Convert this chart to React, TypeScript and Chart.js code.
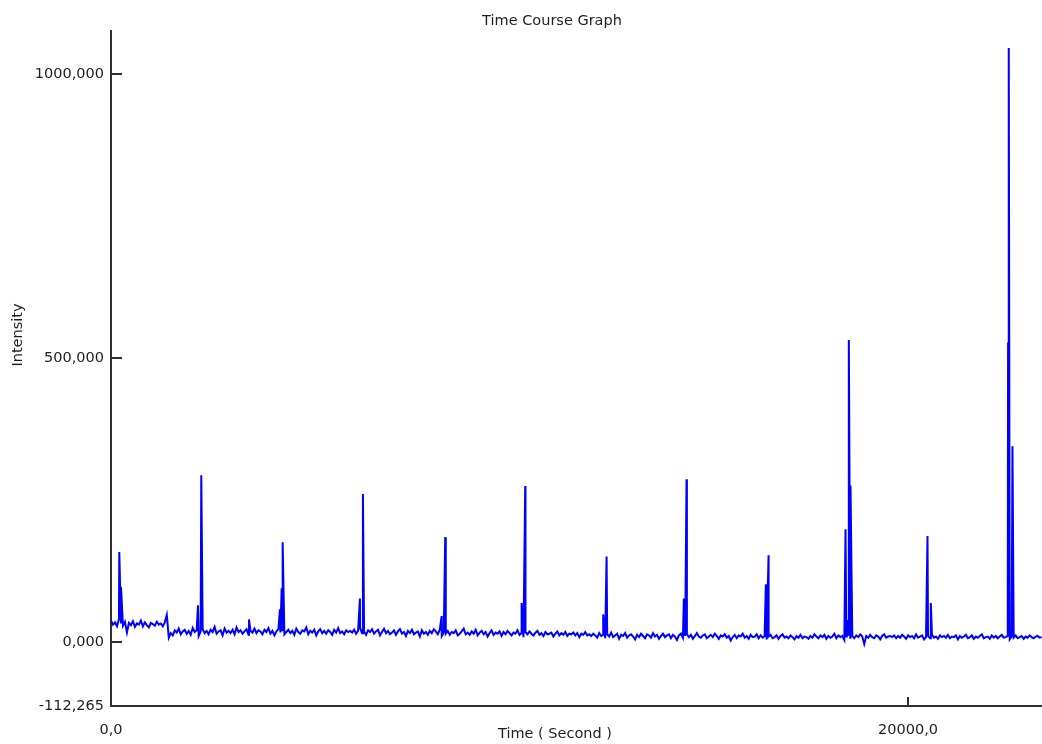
import React, { useEffect, useRef } from "react";
import { Chart, registerables } from "chart.js";

Chart.register(...registerables);

// Baseline trace, sampled every 50 s from t = 0
const baselineStart = 0;
const baselineStep = 50;
const baselineIntensity = [
  // 0 – 1400 s
  38, 31, 35, 28, 41, 33, 29, 36, 17, 34,
  30, 37, 27, 33, 31, 38, 28, 35, 30, 26,
  34, 32, 29, 36, 31, 33, 28, 35, 48,
  // 1450 – 6000 s
  8, 16, 12, 21, 17, 24, 14, 19, 22, 15,
  20, 13, 25, 18, 21, 11, 19, 23, 16, 20,
  14, 22, 18, 27, 15, 19, 21, 12, 24, 17,
  20, 16, 22, 14, 26, 18, 21, 15, 19, 23,
  13, 20, 17, 24, 16, 21, 19, 14, 22, 18,
  25, 15, 20, 12, 19, 23, 17, 21, 14, 18,
  22, 16, 20, 13, 24, 18, 15, 21, 19, 26,
  14, 20, 17, 22, 12, 19, 23, 16, 20, 15,
  21, 18, 13, 22, 17, 25, 16, 19, 14, 21,
  18, 20,
  // 6050 – 12000 s
  17, 22, 15, 20, 25, 16, 19, 13, 21, 18,
  23, 15, 19, 22, 12, 18, 24, 16, 20, 14,
  17, 21, 13, 19, 23, 15, 18, 11, 20, 16,
  22, 14, 17, 19, 10, 21, 15, 18, 13, 20,
  16, 23, 19, 14, 22, 11, 17, 15, 20, 13,
  18, 16, 21, 12, 15, 19, 24, 14, 17, 13,
  19, 15, 22, 12, 17, 20, 14, 18, 10, 16,
  21, 13, 17, 15, 19, 11, 18, 14, 20, 16,
  12, 17, 15, 21, 13, 16, 9, 18, 14, 19,
  15, 12, 17, 20, 13, 16, 11, 18, 14, 15,
  17, 10, 15, 19, 12, 16, 13, 18, 11, 15,
  14, 17, 12, 16, 9, 15, 13, 18, 12, 14,
  // 12050 – 23350 s
  11, 15, 12, 8, 16, 11, 13, 7, 14, 10,
  17, 9, 12, 15, 6, 13, 11, 16, 8, 12,
  14, 10, 5, 13, 9, 15, 11, 7, 14, 12,
  8, 16, 10, 13, 6, 11, 15, 9, 12, 14,
  7, 13, 10, 4, 12, 15, 8, 11, 14, 9,
  13, 6, 11, 16, 10, 8, 12, 14, 7, 10,
  13, 9, 15, 11, 6, 12, 10, 14, 8, 11,
  3, 9, 13, 7, 12, 10, 15, 8, 11, 6,
  13, 9, 10, 14, 7, 12, 8, 11, 5, 10,
  13, 7, 9, 12, 6, 11, 14, 8, 10, 7,
  12, 9, 5, 11, 8, 13, 7, 10, 9, 6,
  11, 8, 14, 10, 7, 12, 9, 13, 6, 11,
  8, 10, 15, 7, 12, 9, 11, 4, 10, 13,
  8, 11, 7, 12, 9, 14, 10, -3, 11, 8,
  13, 9, 7, 12, 10, 5, 11, 14, 8, 10,
  11, 9, 12, 7, 11, 8, 13, 10, 6, 12,
  9, 11, 7, 14, 8, 10, 12, 5, 9, 11,
  7, 13, 8, 10, 6, 12, 9, 11, 8, 13,
  7, 10, 9, 12, 5, 11, 8, 10, 13, 7,
  9, 12, 6, 10, 8, 11, 14, 7, 9, 10,
  6, 12, 8, 11, 7, 10, 13, 8, 9, 11,
  5, 10, 8, 12, 7, 9, 11, 6, 10, 8,
  12, 9, 7, 10, 11, 8, 9,
];

// Stimulus responses (time in seconds, intensity)
const peakTimes = [
  208, 251,
  2182, 2265,
  3462,
  4239, 4282, 4307,
  6246, 6321,
  8296, 8386,
  10303, 10393,
  12350, 12435,
  14374, 14411, 14441,
  16431, 16499,
  18430, 18463, 18513, 18555,
  20487, 20570,
  22509, 22526, 22619,
];
const peakIntensity = [
  159, 97,
  65, 294,
  40,
  58, 95, 176,
  77, 261,
  46, 185,
  69, 275,
  49, 151,
  77, 42, 287,
  102, 153,
  199, 39, 532, 276,
  187, 69,
  526, 1046, 345,
];

const xTickValues = [0, 20000];
const yTickValues = [-112.265, 0, 500, 1000];
const xMin = 0;
const xMax = 23360;
const yMin = -112.265;
const yMax = 1076;

const FONT_FAMILY = '"DejaVu Sans", "Liberation Sans", sans-serif';
const FONT_SIZE = 14.5;
const TEXT_COLOR = "#1e1e1e";
const AXIS_COLOR = "#2e2e2e";
const TRACE_COLOR = "#0000ff";

const withComma = (v: number, digits: number) =>
  v.toFixed(digits).replace(".", ",");

function buildTrace() {
  const pts = baselineIntensity.map((v, i) => ({
    x: baselineStart + i * baselineStep,
    y: v,
  }));
  peakTimes.forEach((t, i) => pts.push({ x: t, y: peakIntensity[i] }));
  pts.sort((a, b) => a.x - b.x);
  return pts;
}

// Caption texts and inward tick marks
const captionsPlugin = {
  id: "captions",
  afterDraw(chart: any) {
    const { ctx, chartArea: area, scales } = chart;
    ctx.save();
    ctx.fillStyle = TEXT_COLOR;
    ctx.font = `${FONT_SIZE}px ${FONT_FAMILY}`;
    ctx.textAlign = "center";
    ctx.textBaseline = "alphabetic";
    ctx.fillText("Time Course Graph", 552, 25);
    ctx.fillText("Time ( Second )", 555, 738);
    ctx.translate(22, 335);
    ctx.rotate(-Math.PI / 2);
    ctx.fillText("Intensity", 0, 0);
    ctx.restore();

    ctx.save();
    ctx.strokeStyle = AXIS_COLOR;
    ctx.lineWidth = 2;
    ctx.beginPath();
    yTickValues
      .filter((v) => v !== yMin)
      .forEach((v) => {
        const py = Math.round(scales.y.getPixelForValue(v));
        ctx.moveTo(area.left, py);
        ctx.lineTo(area.left + 11, py);
      });
    xTickValues
      .filter((v) => v !== xMin)
      .forEach((v) => {
        const px = Math.round(scales.x.getPixelForValue(v));
        ctx.moveTo(px, area.bottom);
        ctx.lineTo(px, area.bottom - 9);
      });
    ctx.stroke();
    ctx.restore();
  },
};

export default function App() {
  const canvasRef = useRef<HTMLCanvasElement | null>(null);

  useEffect(() => {
    document.body.style.margin = "0";
    const canvas = canvasRef.current;
    if (!canvas) return;

    const tickFont = { family: FONT_FAMILY, size: FONT_SIZE };

    const chart = new Chart(canvas, {
      type: "line",
      data: {
        datasets: [
          {
            data: buildTrace(),
            borderColor: TRACE_COLOR,
            borderWidth: 2,
            pointRadius: 0,
            tension: 0,
            fill: false,
          },
        ],
      },
      options: {
        responsive: false,
        animation: false,
        layout: { padding: { top: 31, left: 0, right: 0, bottom: 0 } },
        plugins: {
          legend: { display: false },
          tooltip: { enabled: false },
          title: { display: false },
        },
        scales: {
          x: {
            type: "linear",
            min: xMin,
            max: xMax,
            bounds: "data",
            grid: { display: false, drawTicks: false },
            border: { display: true, color: AXIS_COLOR, width: 2 },
            ticks: {
              autoSkip: false,
              maxRotation: 0,
              padding: 16,
              color: TEXT_COLOR,
              font: tickFont,
              callback: (value: any) => withComma(Number(value), 1),
            },
            afterBuildTicks: (scale: any) => {
              scale.ticks = xTickValues.map((value) => ({ value }));
            },
            afterFit: (scale: any) => {
              scale.height = 38;
            },
          },
          y: {
            type: "linear",
            min: yMin,
            max: yMax,
            bounds: "data",
            grid: { display: false, drawTicks: false },
            border: { display: true, color: AXIS_COLOR, width: 2 },
            ticks: {
              autoSkip: false,
              padding: 7,
              color: TEXT_COLOR,
              font: tickFont,
              callback: (value: any) => withComma(Number(value), 3),
            },
            afterBuildTicks: (scale: any) => {
              scale.ticks = yTickValues.map((value) => ({ value }));
            },
            afterFit: (scale: any) => {
              scale.width = 111;
            },
          },
        },
      },
      plugins: [captionsPlugin],
    });

    return () => chart.destroy();
  }, []);

  return (
    <div style={{ width: 1042, height: 744, background: "#ffffff" }}>
      <canvas
        ref={canvasRef}
        width={1042}
        height={744}
        style={{ display: "block" }}
      />
    </div>
  );
}
